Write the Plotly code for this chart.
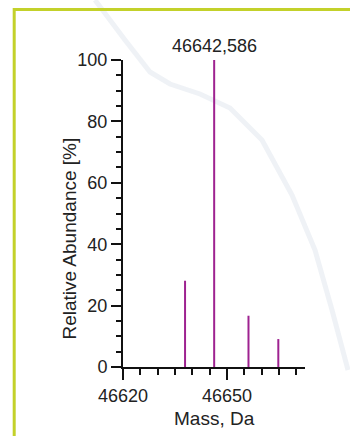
import plotly.graph_objects as go

# ---- data ----
masses = [46637.9, 46646.3, 46656.2, 46664.8]      # Da
abundance = [28.1, 100.0, 16.7, 9.1]               # %
peak_label = "46642,586"
x_tick_vals = [46620, 46650]
x_tick_text = ["46620", "46650"]
y_tick_vals = [0, 20, 40, 60, 80, 100]
y_tick_text = ["0", "20", "40", "60", "80", "100"]

W, H = 350, 436
L, R, T, B = 123, 45, 60, 69
pw, ph = W - L - R, H - T - B

def px(x):
    return (x - L) / pw

def py(y):
    return (H - B - y) / ph

# stems
sx, sy = [], []
for m, a in zip(masses, abundance):
    sx += [m, m, None]
    sy += [0, a, None]

fig = go.Figure()
fig.add_trace(go.Scatter(x=sx, y=sy, mode="lines",
                         line=dict(color="#9e2290", width=2),
                         hoverinfo="skip", showlegend=False))

# background swoosh decoration
pts = [(95, 0), (125, 40), (150, 72), (170, 84), (200, 94), (230, 108), (262, 140),
       (292, 195), (315, 250), (332, 310), (348, 370)]
path = "M " + " L ".join(f"{px(a):.4f},{py(b):.4f}" for a, b in pts)
fig.add_shape(type="path", path=path, xref="paper", yref="paper",
              line=dict(color="rgba(175,188,208,0.2)", width=5), layer="below")

# yellow-green border
fig.add_shape(type="rect", xref="paper", yref="paper",
              x0=px(14.2), x1=px(370), y0=py(9.5), y1=py(460),
              line=dict(color="#c3d12a", width=3), layer="below")

fig.add_annotation(x=masses[1], y=100, xref="x", yref="y", text=peak_label,
                   showarrow=False, yanchor="bottom", yshift=2,
                   font=dict(family="Liberation Sans, Arial", size=18, color="#222"))
fig.add_annotation(x=px(69), y=py(238.5), xref="paper", yref="paper",
                   text="Relative Abundance [%]", textangle=-90, showarrow=False,
                   xanchor="center", yanchor="middle",
                   font=dict(family="Liberation Sans Narrow, Liberation Sans, Arial", size=19, color="#222"))
fig.add_annotation(x=px(214), y=py(418), xref="paper", yref="paper",
                   text="Mass, Da", showarrow=False,
                   xanchor="center", yanchor="middle",
                   font=dict(family="Liberation Sans Narrow, Liberation Sans, Arial", size=19, color="#222"))

fig.update_xaxes(range=[46620, 46672.5], tickvals=x_tick_vals, ticktext=x_tick_text,
                 ticks="outside", ticklen=11, tickwidth=2, tickcolor="#111",
                 showline=True, linecolor="#111", linewidth=2, showgrid=False, zeroline=False,
                 minor=dict(dtick=5, tick0=46620, ticks="outside", ticklen=6, tickwidth=2, tickcolor="#111", showgrid=False),
                 tickfont=dict(family="Liberation Sans, Arial", size=18, color="#222"))
fig.update_yaxes(range=[0, 100], tickvals=y_tick_vals, ticktext=y_tick_text,
                 ticks="outside", ticklen=10, tickwidth=2, tickcolor="#111",
                 showline=True, linecolor="#111", linewidth=2, showgrid=False, zeroline=False,
                 minor=dict(dtick=5, tick0=0, ticks="outside", ticklen=5, tickwidth=2, tickcolor="#111", showgrid=False),
                 tickfont=dict(family="Liberation Sans, Arial", size=18, color="#222"))

fig.update_layout(width=W, height=H, margin=dict(l=L, r=R, t=T, b=B),
                  paper_bgcolor="#ffffff", plot_bgcolor="rgba(0,0,0,0)")
fig.write_html("out.html", config={"displayModeBar": False},
               post_script="document.body.style.margin='0';document.body.style.overflow='hidden';")
